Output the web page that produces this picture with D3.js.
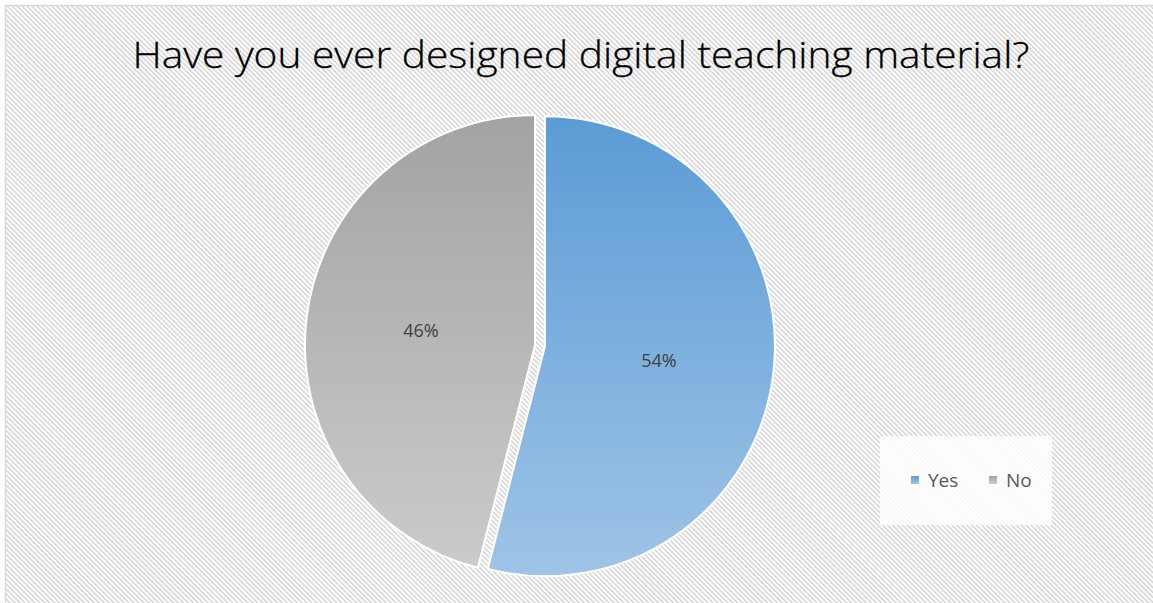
<!DOCTYPE html>
<html>
<head>
<meta charset="utf-8">
<script src="https://cdn.jsdelivr.net/npm/d3@7"></script>
<style>
  html, body { margin: 0; padding: 0; background: #fff; }
  svg { display: block; }
</style>
</head>
<body>
<svg id="chart" width="1153" height="603"></svg>
<script>
// Survey answers
const categories = ["Yes", "No"];
const values = [54, 46];
const chartTitle = "Have you ever designed digital teaching material?";

const W = 1153, H = 603;
const svg = d3.select("#chart");
const defs = svg.append("defs");

// Diagonal hatch used as the chart-area fill
const hatch = defs.append("pattern")
  .attr("id", "hatch")
  .attr("patternUnits", "userSpaceOnUse")
  .attr("width", 3.5).attr("height", 3.5)
  .attr("patternTransform", "rotate(-45)");
hatch.append("rect").attr("width", 3.5).attr("height", 3.5).attr("fill", "#ffffff");
hatch.append("rect").attr("width", 1.6).attr("height", 3.5).attr("fill", "#d6d6d6");

// Vertical gradients for the two slices
const gradStops = {
  Yes: ["#5b9bd5", "#9fc4e7"],
  No:  ["#a3a3a3", "#cbcbcb"]
};
categories.forEach(c => {
  const g = defs.append("linearGradient")
    .attr("id", "grad-" + c)
    .attr("x1", 0).attr("y1", 0).attr("x2", 0).attr("y2", 1);
  g.append("stop").attr("offset", "0%").attr("stop-color", gradStops[c][0]);
  g.append("stop").attr("offset", "100%").attr("stop-color", gradStops[c][1]);
});

svg.append("rect").attr("width", W).attr("height", H).attr("fill", "#fff");
svg.append("rect")
  .attr("x", 5.5).attr("y", 5.5)
  .attr("width", W + 20).attr("height", H + 20)
  .attr("fill", "url(#hatch)")
  .attr("stroke", "#d9d9d9").attr("stroke-width", 1.5);

// Title
const title = svg.append("text")
  .attr("x", 581).attr("y", 68)
  .attr("text-anchor", "middle")
  .attr("font-family", "'Open Sans', 'Noto Sans', sans-serif")
  .attr("font-weight", 300)
  .attr("font-size", 37)
  .attr("fill", "#000")
  .attr("stroke", "#000").attr("stroke-width", 0.3)
  .text(chartTitle);
title.attr("textLength", 897).attr("lengthAdjust", "spacingAndGlyphs");

// Pie
const cx = 535, cy = 345, radius = 230, explode = 10;
const pie = d3.pie().sort(null).value(d => d.value);
const arcs = pie(categories.map((c, i) => ({ cat: c, value: values[i] })));
const arc = d3.arc().innerRadius(0).outerRadius(radius);
const labelArc = d3.arc().innerRadius(radius * 0.5).outerRadius(radius * 0.5);

const slices = svg.append("g").selectAll("g")
  .data(arcs)
  .join("g")
  .attr("transform", d => {
    const mid = (d.startAngle + d.endAngle) / 2;
    const off = d.data.cat === "Yes" ? explode : 0;
    return `translate(${cx + off * Math.sin(mid)},${cy - off * Math.cos(mid)})`;
  });

slices.append("path")
  .attr("d", arc)
  .attr("fill", d => `url(#grad-${d.data.cat})`)
  .attr("stroke", "#fff")
  .attr("stroke-width", 2);

const total = d3.sum(values);
slices.append("text")
  .attr("transform", d => `translate(${labelArc.centroid(d)})`)
  .attr("text-anchor", "middle")
  .attr("dy", "0.35em")
  .attr("font-family", "'Open Sans', 'Noto Sans', sans-serif")
  .attr("font-size", 18)
  .attr("fill", "#404040")
  .text(d => Math.round(d.data.value / total * 100) + "%");

// Legend
const legend = svg.append("g");
legend.append("rect")
  .attr("x", 880).attr("y", 436).attr("width", 172).attr("height", 89)
  .attr("fill", "#fff").attr("fill-opacity", 0.85);

const legendX = d3.scalePoint().domain(categories).range([911, 989]);
const items = legend.selectAll("g")
  .data(categories)
  .join("g")
  .attr("transform", c => `translate(${legendX(c)},480)`);
items.append("rect")
  .attr("x", 0).attr("y", -4).attr("width", 8).attr("height", 8)
  .attr("fill", c => `url(#grad-${c})`);
items.append("text")
  .attr("x", 17).attr("dy", "0.35em")
  .attr("font-family", "'Open Sans', 'Noto Sans', sans-serif")
  .attr("font-size", 19)
  .attr("fill", "#595959")
  .text(c => c);
</script>
</body>
</html>
